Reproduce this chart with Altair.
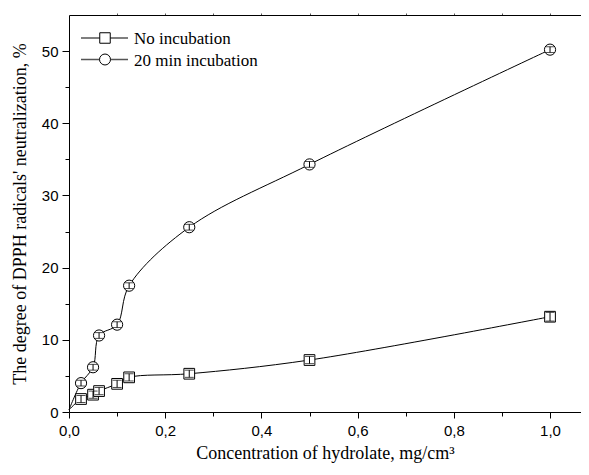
import altair as alt
import pandas as pd

# ---- data ----
conc = [0.025, 0.05, 0.0625, 0.1, 0.125, 0.25, 0.5, 1.0]
no_incubation = [1.8, 2.4, 2.9, 3.9, 4.8, 5.3, 7.2, 13.2]
incubation_20 = [4.0, 6.2, 10.6, 12.1, 17.5, 25.6, 34.3, 50.2]
err_no = [0.5, 0.5, 0.5, 0.5, 0.5, 0.5, 0.5, 0.6]
err_20 = [0.4, 0.4, 0.4, 0.4, 0.4, 0.4, 0.4, 0.4]
origin_x = [0.0]
origin_y = [0.3]

x_major = [0.0, 0.2, 0.4, 0.6, 0.8, 1.0]
x_minor = [0.1, 0.3, 0.5, 0.7, 0.9]
x_top = [0.1, 0.2, 0.3, 0.4, 0.5, 0.6, 0.7, 0.8, 0.9, 1.0]
y_major = [0, 10, 20, 30, 40, 50]
y_minor = [5, 15, 25, 35, 45]
series_names = ["No incubation", "20 min incubation"]

pts = pd.DataFrame({
    "x": conc + conc,
    "y": no_incubation + incubation_20,
    "err": err_no + err_20,
    "series": [series_names[0]] * len(conc) + [series_names[1]] * len(conc),
})
pts["lo"] = pts["y"] - pts["err"]
pts["hi"] = pts["y"] + pts["err"]

lines = pd.DataFrame({
    "x": origin_x + conc + origin_x + conc,
    "y": origin_y + no_incubation + origin_y + incubation_20,
    "series": [series_names[0]] * (len(conc) + 1) + [series_names[1]] * (len(conc) + 1),
})

SANS = "Liberation Sans"
SERIF = "Liberation Serif"

xs = alt.Scale(domain=[0, 1.0644], nice=False, zero=False)
ys = alt.Scale(domain=[0, 55], nice=False, zero=False)

axis_common = dict(grid=False, domainColor="black", tickColor="black",
                   labelColor="black", titleColor="black", domainWidth=1, tickWidth=1)

x_axis = alt.Axis(values=x_major, orient="bottom", tickSize=6, labelFlush=False,
                  labelExpr="replace(format(datum.value, '.1f'), '.', ',')",
                  labelFont=SANS, labelFontSize=15, labelPadding=5,
                  title="Concentration of hydrolate, mg/cm³", titleFont=SERIF,
                  titleFontSize=18, titleFontWeight="normal", titlePadding=6,
                  **axis_common)
y_axis = alt.Axis(values=y_major, orient="left", tickSize=7, format="d",
                  labelFont=SANS, labelFontSize=15, labelPadding=4, labelFlush=False,
                  title="The degree of DPPH radicals' neutralization, %",
                  titleFont=SERIF, titleFontSize=18, titleFontWeight="normal",
                  titlePadding=12, **axis_common)

line_layer = alt.Chart(lines).mark_line(
    interpolate="catmull-rom", color="black", strokeWidth=1
).encode(
    x=alt.X("x:Q", scale=xs, axis=x_axis),
    y=alt.Y("y:Q", scale=ys, axis=y_axis),
    detail="series:N",
)

# minor ticks (bottom / left) and top border axis
minor_x = alt.Chart(pts).mark_point(opacity=0).encode(
    x=alt.X("x:Q", scale=xs, axis=alt.Axis(values=x_minor, orient="bottom", labels=False,
                                              domain=False, tickSize=4, title=None,
                                              grid=False, tickColor="black")),
    y=alt.Y("y:Q", scale=ys, axis=alt.Axis(values=y_minor, orient="left", labels=False,
                                              domain=False, tickSize=4, title=None,
                                              grid=False, tickColor="black")),
)
top_axis = alt.Chart(pts).mark_point(opacity=0).encode(
    x=alt.X("x:Q", scale=xs, axis=alt.Axis(values=x_top, orient="top", labels=False,
                                              tickSize=2, title=None, grid=False,
                                              domainColor="black", tickColor="#555")),
    y=alt.Y("y:Q", scale=ys, axis=None),
)

sq = pts[pts.series == series_names[0]]
ci = pts[pts.series == series_names[1]]

def markers(df, shape, size):
    base = alt.Chart(df)
    pt = base.mark_point(shape=shape, size=size, fill="white", fillOpacity=1,
                         stroke="black", strokeWidth=1, opacity=1).encode(
        x=alt.X("x:Q", scale=xs, axis=None),
        y=alt.Y("y:Q", scale=ys, axis=None),
    )
    rule = base.mark_rule(color="black", strokeWidth=1).encode(
        x=alt.X("x:Q", scale=xs, axis=None),
        y=alt.Y("lo:Q", scale=ys, axis=None),
        y2="hi:Q",
    )
    cap_lo = base.mark_tick(orient="horizontal", color="black", size=9, thickness=1).encode(
        x=alt.X("x:Q", scale=xs, axis=None),
        y=alt.Y("lo:Q", scale=ys, axis=None),
    )
    cap_hi = base.mark_tick(orient="horizontal", color="black", size=9, thickness=1).encode(
        x=alt.X("x:Q", scale=xs, axis=None),
        y=alt.Y("hi:Q", scale=ys, axis=None),
    )
    return [pt, rule, cap_lo, cap_hi]

# legend (drawn inside the plot, top-left)
leg_rows = [(23, "square", 110, series_names[0]), (44.5, "circle", 120, series_names[1])]
legend_layers = []
for ypix, shape, size, label in leg_rows:
    d = pd.DataFrame({"label": [label]})
    legend_layers.append(alt.Chart(d).mark_rule(color="#555", strokeWidth=1.5).encode(
        x=alt.value(12), x2=alt.value(59), y=alt.value(ypix)))
    legend_layers.append(alt.Chart(d).mark_point(shape=shape, size=size, fill="white",
                                                 fillOpacity=1, stroke="black",
                                                 strokeWidth=1, opacity=1).encode(
        x=alt.value(36), y=alt.value(ypix)))
    legend_layers.append(alt.Chart(d).mark_text(align="left", baseline="middle",
                                                font=SERIF, fontSize=17, color="black").encode(
        x=alt.value(65), y=alt.value(ypix + 1), text="label:N"))

chart = alt.layer(
    line_layer, minor_x, top_axis,
    *markers(sq, "square", 115), *markers(ci, "circle", 125),
    *legend_layers,
).resolve_axis(x="independent", y="independent").properties(
    width=512, height=397,
    autosize=alt.AutoSizeParams(type="none"),
    padding={"left": 61, "top": 7, "right": 0, "bottom": 51},
    background="white",
).configure_view(stroke=None)

chart.save("out.html", embed_options={"renderer": "svg", "actions": False})
